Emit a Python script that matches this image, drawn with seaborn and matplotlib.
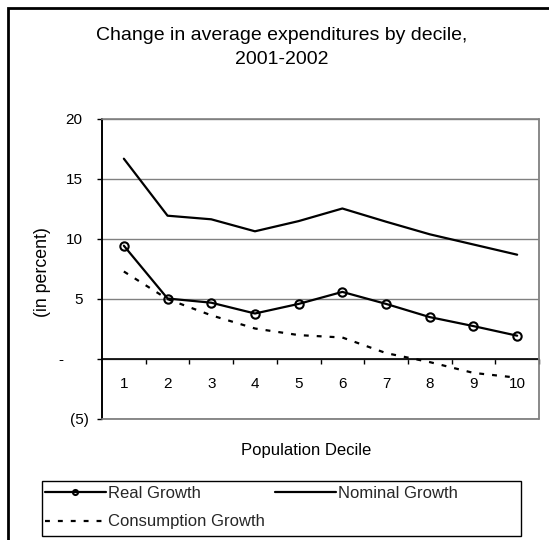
import matplotlib
matplotlib.use("Agg")
import matplotlib.pyplot as plt
from matplotlib.patches import Rectangle
from matplotlib.ticker import FixedLocator, NullFormatter
import seaborn as sns
import pandas as pd

# Growth in average expenditures, by population decile (percent)
deciles = [1, 2, 3, 4, 5, 6, 7, 8, 9, 10]
real_growth = [9.4, 5.0, 4.65, 3.75, 4.55, 5.55, 4.55, 3.45, 2.7, 1.9]
nominal_growth = [16.65, 11.9, 11.6, 10.6, 11.45, 12.5, 11.4, 10.35, 9.5, 8.65]
consumption_growth = [7.25, 4.95, 3.6, 2.5, 1.95, 1.75, 0.45, -0.3, -1.2, -1.6]
y_ticks = [-5, 0, 5, 10, 15, 20]
y_tick_labels = ["(5)", "-", "5", "10", "15", "20"]

df = pd.DataFrame({
    "decile": deciles,
    "Real Growth": real_growth,
    "Nominal Growth": nominal_growth,
    "Consumption Growth": consumption_growth,
})

sns.set_theme(style="white")
plt.rcParams["font.family"] = ["Liberation Sans", "DejaVu Sans"]

W, H = 549, 540
fig = plt.figure(figsize=(W / 100, H / 100), dpi=100)
fig.patch.set_facecolor("white")

def fx(px):
    return px / W

def fy(py):
    return 1 - py / H

left, right, top, bottom = 102, 539, 118.5, 418.5
ax = fig.add_axes([fx(left), fy(bottom), fx(right) - fx(left), fy(top) - fy(bottom)])
ax.set_facecolor("white")

black = "#000000"
grid_gray = "#808080"

sns.lineplot(data=df, x="decile", y="Real Growth", ax=ax, color=black, lw=1.6,
             marker="o", markersize=6, markerfacecolor="none",
             markeredgecolor=black, markeredgewidth=1.5, label="Real Growth")
sns.lineplot(data=df, x="decile", y="Consumption Growth", ax=ax, color=black,
             lw=1.6, linestyle=(0, (2.2, 3.6)), label="Consumption Growth")
sns.lineplot(data=df, x="decile", y="Nominal Growth", ax=ax, color=black, lw=1.6,
             label="Nominal Growth")

ax.set_xlim(0.5, 10.5)
ax.set_ylim(-5, 20)

ax.yaxis.set_major_locator(FixedLocator(y_ticks))
ax.yaxis.set_major_formatter(NullFormatter())
ax.grid(axis="y", color=grid_gray, lw=1.0)
ax.set_axisbelow(True)

ytrans = ax.get_yaxis_transform()
# plot-area frame: bottom and right edges
ax.plot([0, 1], [-5, -5], transform=ytrans, color=grid_gray, lw=1.3,
        clip_on=False, zorder=3)
ax.plot([1, 1], [-5, 20], transform=ytrans, color=grid_gray, lw=1.3,
        clip_on=False, zorder=3)

# accounting-style value labels: "-" for zero, parentheses for negatives
axw = right - left
for v, s in zip(y_ticks, y_tick_labels):
    if s == "-":
        ax.text((60.5 - left) / axw, v, s, transform=ytrans, ha="center",
                va="center_baseline", fontsize=11, color=black)
    elif s.startswith("("):
        ax.text((89 - left) / axw, v, s, transform=ytrans, ha="right",
                va="center_baseline", fontsize=11, color=black)
    else:
        ax.text((82.5 - left) / axw, v, s, transform=ytrans, ha="right",
                va="center_baseline", fontsize=11, color=black)

ax.xaxis.set_major_locator(FixedLocator(deciles))
ax.xaxis.set_minor_locator(FixedLocator([d + 0.5 for d in deciles]))
ax.tick_params(axis="x", which="major", length=0, pad=13, labelsize=11, colors=black)
ax.tick_params(axis="x", which="minor", length=3.6, width=1.0, direction="out",
               color=black, bottom=True)
ax.tick_params(axis="y", which="major", length=3.6, width=1.0, direction="out",
               color=black, left=True)

ax.spines["bottom"].set_position(("data", 0))
ax.spines["bottom"].set_color(black)
ax.spines["bottom"].set_linewidth(1.2)
ax.spines["left"].set_color(black)
ax.spines["left"].set_linewidth(1.4)
ax.spines["top"].set_visible(True)
ax.spines["top"].set_color(grid_gray)
ax.spines["top"].set_linewidth(1.2)
ax.spines["right"].set_visible(False)

ax.set_xlabel("")
ax.set_ylabel("")

# Titles and axis captions
fig.text(fx(282), fy(35), "Change in average expenditures by decile,",
         ha="center", va="center", fontsize=14, color=black)
fig.text(fx(282), fy(60), "2001-2002", ha="center", va="center",
         fontsize=14, color=black)
fig.text(fx(42.5), fy(272.5), "(in percent)", rotation=90, ha="center",
         va="center", fontsize=12.8, color=black)
fig.text(fx(306), fy(450), "Population Decile", ha="center", va="center",
         fontsize=12, color=black)

# Legend inside a boxed frame
handles, labels = ax.get_legend_handles_labels()
ax.get_legend().remove()
order = ["Real Growth", "Consumption Growth", "Nominal Growth"]
hl = dict(zip(labels, handles))
leg = fig.legend([hl[k] for k in order], order, ncol=2, frameon=False,
                 loc="upper left", bbox_to_anchor=(fx(45), fy(486)),
                 borderaxespad=0, borderpad=0, fontsize=12,
                 handlelength=3.65, handletextpad=0.1, columnspacing=0.65,
                 labelspacing=0.8, markerscale=0.6)
fig.add_artist(Rectangle((fx(42), fy(536)), fx(521) - fx(42), fy(481) - fy(536),
                         transform=fig.transFigure, fill=False,
                         edgecolor=black, lw=1.0))

# Outer chart border
fig.add_artist(Rectangle((fx(8), fy(560)), fx(600) - fx(8), fy(8) - fy(560),
                         transform=fig.transFigure, fill=False,
                         edgecolor=black, lw=2.0))

fig.savefig("out.png", dpi=100)
